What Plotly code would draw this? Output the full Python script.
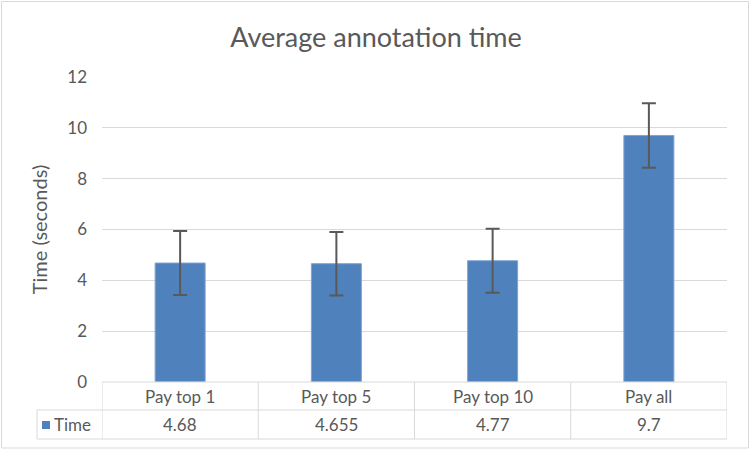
import plotly.graph_objects as go

categories = ["Pay top 1", "Pay top 5", "Pay top 10", "Pay all"]
times = [4.68, 4.655, 4.77, 9.7]
errors = [1.26, 1.25, 1.26, 1.27]
table_labels = ["4.68", "4.655", "4.77", "9.7"]
series_name = "Time"
y_ticks = [0, 2, 4, 6, 8, 10, 12]

FONT = "Lato, 'Open Sans', sans-serif"
TXT = "#595959"
LINE = "#D9D9D9"
BLUE = "#4F81BD"

xs = list(range(len(categories)))

fig = go.Figure()
fig.add_trace(go.Bar(
    x=xs, y=times, width=0.32,
    marker=dict(color=BLUE, line=dict(color="#7EA3D3", width=1)),
    error_y=dict(type="data", array=errors, visible=True,
                 color="#595959", thickness=2, width=7),
    name=series_name, showlegend=False,
))

L, R, T, B = 102, 25, 77, 70
W, H = 752, 452
ph = H - T - B
pw = W - L - R

def py(pix):
    return ((H - B) - pix) / ph

def px(pix):
    return (pix - L) / pw

row1_bot = py(382 + 28)
row2_bot = py(382 + 57)
left_x = px(37)

shapes = []
shapes.append(dict(type="line", xref="paper", yref="paper", x0=0, x1=1, y0=0, y1=0,
                   line=dict(color=LINE, width=1)))
shapes.append(dict(type="line", xref="paper", yref="paper", x0=left_x, x1=1, y0=row1_bot, y1=row1_bot,
                   line=dict(color=LINE, width=1)))
shapes.append(dict(type="line", xref="paper", yref="paper", x0=left_x, x1=1, y0=row2_bot, y1=row2_bot,
                   line=dict(color=LINE, width=1)))
for b in [i - 0.5 for i in range(len(categories) + 1)]:
    shapes.append(dict(type="line", xref="x", yref="paper", x0=b, x1=b, y0=0, y1=row2_bot,
                       line=dict(color=LINE, width=1)))
shapes.append(dict(type="line", xref="paper", yref="paper", x0=left_x, x1=left_x, y0=row1_bot, y1=row2_bot,
                   line=dict(color=LINE, width=1)))
shapes.append(dict(type="rect", xref="paper", yref="paper",
                   x0=px(42), x1=px(50), y0=py(429), y1=py(421),
                   fillcolor=BLUE, line=dict(width=0)))
shapes.append(dict(type="rect", xref="paper", yref="paper",
                   x0=px(1.5), x1=px(748.5), y0=py(448), y1=py(1.5),
                   line=dict(color=LINE, width=1), fillcolor="rgba(0,0,0,0)"))

annotations = []
for i, c in enumerate(categories):
    annotations.append(dict(x=i, y=(0 + row1_bot) / 2, xref="x", yref="paper", text=c,
                            yanchor="middle", showarrow=False,
                            font=dict(family=FONT, size=17, color=TXT)))
    annotations.append(dict(x=i, y=(row1_bot + row2_bot) / 2, xref="x", yref="paper", text=table_labels[i],
                            yanchor="middle", showarrow=False,
                            font=dict(family=FONT, size=17, color=TXT)))
annotations.append(dict(x=px(52), y=(row1_bot + row2_bot) / 2, xref="paper", yref="paper",
                        text=series_name, xanchor="left", yanchor="middle", showarrow=False,
                        font=dict(family=FONT, size=17, color=TXT)))

fig.update_layout(
    width=W, height=H,
    margin=dict(l=L, r=R, t=T, b=B),
    paper_bgcolor="white", plot_bgcolor="white",
    title=dict(text="Average annotation time", x=0.5, xref="container", xanchor="center",
               y=1 - 38 / H, yanchor="middle",
               font=dict(family=FONT, size=27, color=TXT)),
    xaxis=dict(range=[-0.5, 3.5], showticklabels=False, showgrid=False, zeroline=False,
               showline=False, ticks=""),
    yaxis=dict(range=[0, 12], tickvals=y_ticks, showgrid=True, gridcolor=LINE, gridwidth=1,
               zeroline=False, showline=False, ticks="", ticklen=0, ticklabelstandoff=14,
               tickfont=dict(family=FONT, size=17, color=TXT),
               title=dict(text="Time (seconds)", font=dict(family=FONT, size=20, color=TXT), standoff=14)),
    shapes=shapes, annotations=annotations,
)

fig.write_html("out.html")
